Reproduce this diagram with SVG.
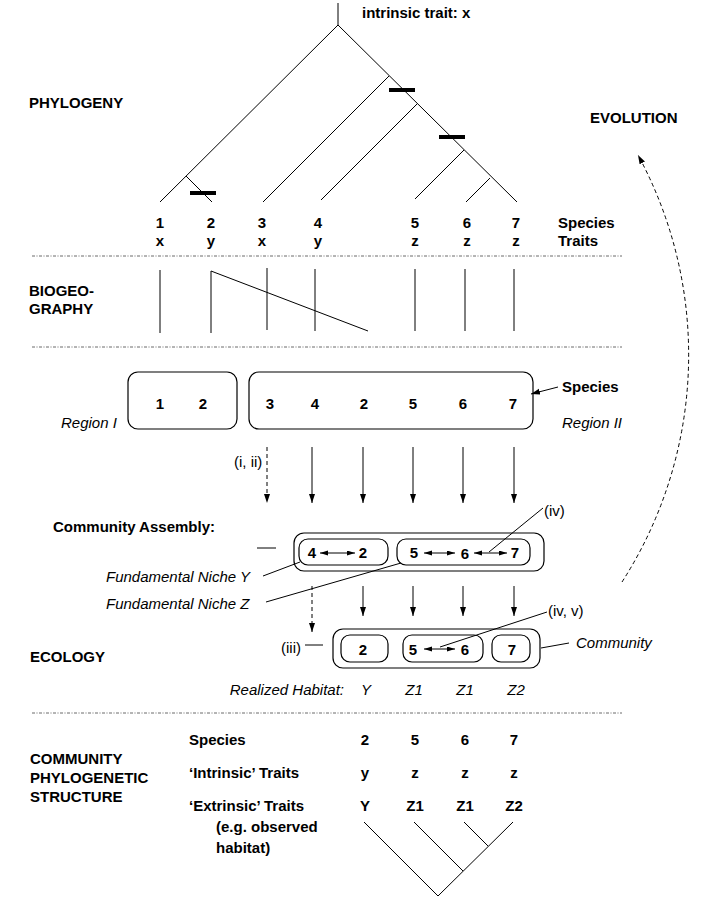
<svg xmlns="http://www.w3.org/2000/svg" width="717" height="912" viewBox="0 0 717 912">
<style>
text{font-family:"Liberation Sans",Arial,sans-serif;fill:#000}
.b{font-weight:bold;font-size:15px}
.i{font-style:italic;font-size:15px}
.r{font-size:15px}
.m{text-anchor:middle}
.e{text-anchor:end}
.ln{stroke:#000;stroke-width:1;fill:none}
.bar{stroke:#000;stroke-width:4}
.sep{stroke:#444;stroke-width:0.8;stroke-dasharray:3 1.5 1 1.5;fill:none}
.box{fill:none;stroke:#000;stroke-width:1.2}
.arr{stroke:#000;stroke-width:1;fill:none;marker-end:url(#ah)}
.darr{stroke:#000;stroke-width:1;fill:none;marker-end:url(#ah);stroke-dasharray:4 3}
.dbl{stroke:#000;stroke-width:1;fill:none;marker-start:url(#ah2);marker-end:url(#ah2)}
</style>
<defs>
<marker id="ah" markerUnits="userSpaceOnUse" markerWidth="10" markerHeight="8" refX="9" refY="3" orient="auto"><path d="M0,0 L9,3 L0,6 z" fill="#000"/></marker>
<marker id="ah2" markerUnits="userSpaceOnUse" markerWidth="10" markerHeight="8" refX="8" refY="2.5" orient="auto-start-reverse"><path d="M0,0 L8,2.5 L0,5 z" fill="#000"/></marker>
</defs>

<g id="section-labels">
<text class="b" x="29" y="108">PHYLOGENY</text>
<text class="b" x="590" y="123">EVOLUTION</text>
<text class="b" x="29" y="296">BIOGEO-</text>
<text class="b" x="29" y="314">GRAPHY</text>
<text class="b" x="53" y="532">Community Assembly:</text>
<text class="b" x="30" y="662">ECOLOGY</text>
<text class="b" x="30" y="764">COMMUNITY</text>
<text class="b" x="30" y="783">PHYLOGENETIC</text>
<text class="b" x="30" y="802">STRUCTURE</text>
</g>

<g id="separators">
<line class="sep" x1="32" y1="256" x2="622" y2="256"/>
<line class="sep" x1="32" y1="347" x2="622" y2="347"/>
<line class="sep" x1="32" y1="713" x2="622" y2="713"/>
</g>

<g id="phylogeny">
<text class="b" x="362" y="18">intrinsic trait: x</text>
<path class="ln" d="M338,3 V25 M338,25 L160,202 M186,176 L212,202 M338,25 L517,202 M389,76 L263,202 M417,104 L321,200 M464,150 L415,199 M490,178 L466,202"/>
<line class="bar" x1="190" y1="193" x2="216" y2="193"/>
<line class="bar" x1="389" y1="90" x2="415" y2="90"/>
<line class="bar" x1="439" y1="137" x2="465" y2="137"/>
</g>

<g id="species-row">
<text class="b m" x="160" y="228">1</text>
<text class="b m" x="211" y="228">2</text>
<text class="b m" x="262" y="228">3</text>
<text class="b m" x="318" y="228">4</text>
<text class="b m" x="415" y="228">5</text>
<text class="b m" x="467" y="228">6</text>
<text class="b m" x="516" y="228">7</text>
<text class="b" x="558" y="228">Species</text>
<text class="b m" x="160" y="246">x</text>
<text class="b m" x="211" y="246">y</text>
<text class="b m" x="262" y="246">x</text>
<text class="b m" x="318" y="246">y</text>
<text class="b m" x="415" y="246">z</text>
<text class="b m" x="467" y="246">z</text>
<text class="b m" x="516" y="246">z</text>
<text class="b" x="558" y="246">Traits</text>
</g>

<g id="biogeography">
<path class="ln" d="M160,270 V333 M211,271 V333 M267,268 V330 M315,269 V331 M415,269 V331 M465,269 V331 M514,269 V331 M211,271 L368,331"/>
</g>

<g id="region-I">
<rect class="box" x="128" y="372" width="109" height="57" rx="10"/>
<text class="b m" x="160" y="409">1</text>
<text class="b m" x="203" y="409">2</text>
<text class="i" x="61" y="428">Region I</text>
</g>

<g id="region-II">
<rect class="box" x="249" y="372" width="284" height="57" rx="10"/>
<text class="b m" x="270" y="409">3</text>
<text class="b m" x="315" y="409">4</text>
<text class="b m" x="364" y="409">2</text>
<text class="b m" x="413" y="409">5</text>
<text class="b m" x="463" y="409">6</text>
<text class="b m" x="513" y="409">7</text>
<text class="i" x="562" y="428">Region II</text>
<text class="b" x="562" y="392">Species</text>
</g>

<g id="community-assembly">
<rect class="box" x="294" y="533" width="250" height="38" rx="10"/>
<rect class="box" x="299" y="539" width="89" height="26" rx="9"/>
<rect class="box" x="397" y="539" width="133" height="26" rx="9"/>
<text class="b m" x="312" y="558">4</text>
<text class="b m" x="363" y="558">2</text>
<text class="b m" x="414" y="558">5</text>
<text class="b m" x="465" y="559">6</text>
<text class="b m" x="515" y="558">7</text>
<text class="i" x="106" y="582">Fundamental Niche Y</text>
<text class="i" x="106" y="609">Fundamental Niche Z</text>
<text class="r" x="544" y="516">(iv)</text>
</g>

<g id="community">
<rect class="box" x="333" y="629" width="207" height="39" rx="10"/>
<rect class="box" x="341" y="635" width="47" height="27" rx="9"/>
<rect class="box" x="403" y="635" width="80" height="27" rx="9"/>
<rect class="box" x="492" y="635" width="38" height="27" rx="9"/>
<text class="b m" x="363" y="655">2</text>
<text class="b m" x="413" y="655">5</text>
<text class="b m" x="465" y="655">6</text>
<text class="b m" x="512" y="655">7</text>
<text class="i" x="576" y="648">Community</text>
<text class="r" x="548" y="616">(iv, v)</text>
<text class="r" x="281" y="653">(iii)</text>
<text class="r" x="234" y="467">(i, ii)</text>
</g>

<g id="realized-habitat">
<text class="i e" x="344" y="695">Realized Habitat:</text>
<text class="i m" x="366" y="695">Y</text>
<text class="i m" x="414" y="695">Z1</text>
<text class="i m" x="465" y="695">Z1</text>
<text class="i m" x="516" y="695">Z2</text>
</g>

<g id="structure-table">
<text class="b" x="189" y="745">Species</text>
<text class="b m" x="365" y="745">2</text>
<text class="b m" x="415" y="745">5</text>
<text class="b m" x="465" y="745">6</text>
<text class="b m" x="514" y="745">7</text>
<text class="b" x="189" y="778">‘Intrinsic’ Traits</text>
<text class="b m" x="365" y="778">y</text>
<text class="b m" x="415" y="778">z</text>
<text class="b m" x="465" y="778">z</text>
<text class="b m" x="514" y="778">z</text>
<text class="b" x="189" y="811">‘Extrinsic’ Traits</text>
<text class="b m" x="365" y="811">Y</text>
<text class="b m" x="415" y="811">Z1</text>
<text class="b m" x="465" y="811">Z1</text>
<text class="b m" x="514" y="811">Z2</text>
<text class="b" x="216" y="832">(e.g. observed</text>
<text class="b" x="216" y="853">habitat)</text>
</g>

<g id="community-tree">
<path class="ln" d="M364,822 L438,896 L513,822 M414,822 L463,871 M464,822 L488,846"/>
</g>

<g id="connectors">
<path class="darr" d="M622,582 A420,420 0 0 0 638,155"/>
<line class="arr" x1="558" y1="387" x2="531" y2="394"/>
<line class="darr" x1="267" y1="447" x2="267" y2="503"/>
<line class="arr" x1="312" y1="447" x2="312" y2="503"/>
<line class="arr" x1="363" y1="447" x2="363" y2="503"/>
<line class="arr" x1="413" y1="447" x2="413" y2="503"/>
<line class="arr" x1="463" y1="447" x2="463" y2="503"/>
<line class="arr" x1="514" y1="447" x2="514" y2="503"/>
<line class="ln" x1="257" y1="548" x2="276" y2="548"/>
<line class="dbl" x1="320" y1="553" x2="355" y2="553"/>
<line class="dbl" x1="424" y1="553" x2="455" y2="553"/>
<line class="dbl" x1="474" y1="553" x2="507" y2="553"/>
<line class="ln" x1="543" y1="508" x2="489" y2="552"/>
<line class="ln" x1="263" y1="576" x2="300" y2="562"/>
<line class="ln" x1="266" y1="602" x2="401" y2="563"/>
<line class="darr" x1="312" y1="586" x2="312" y2="632"/>
<line class="arr" x1="363" y1="586" x2="363" y2="616"/>
<line class="arr" x1="413" y1="586" x2="413" y2="616"/>
<line class="arr" x1="463" y1="586" x2="463" y2="616"/>
<line class="arr" x1="514" y1="586" x2="514" y2="616"/>
<line class="ln" x1="305" y1="645" x2="323" y2="645"/>
<line class="dbl" x1="424" y1="649" x2="455" y2="649"/>
<line class="ln" x1="547" y1="612" x2="440" y2="647"/>
<line class="ln" x1="541" y1="648" x2="569" y2="643"/>
</g>
</svg>
